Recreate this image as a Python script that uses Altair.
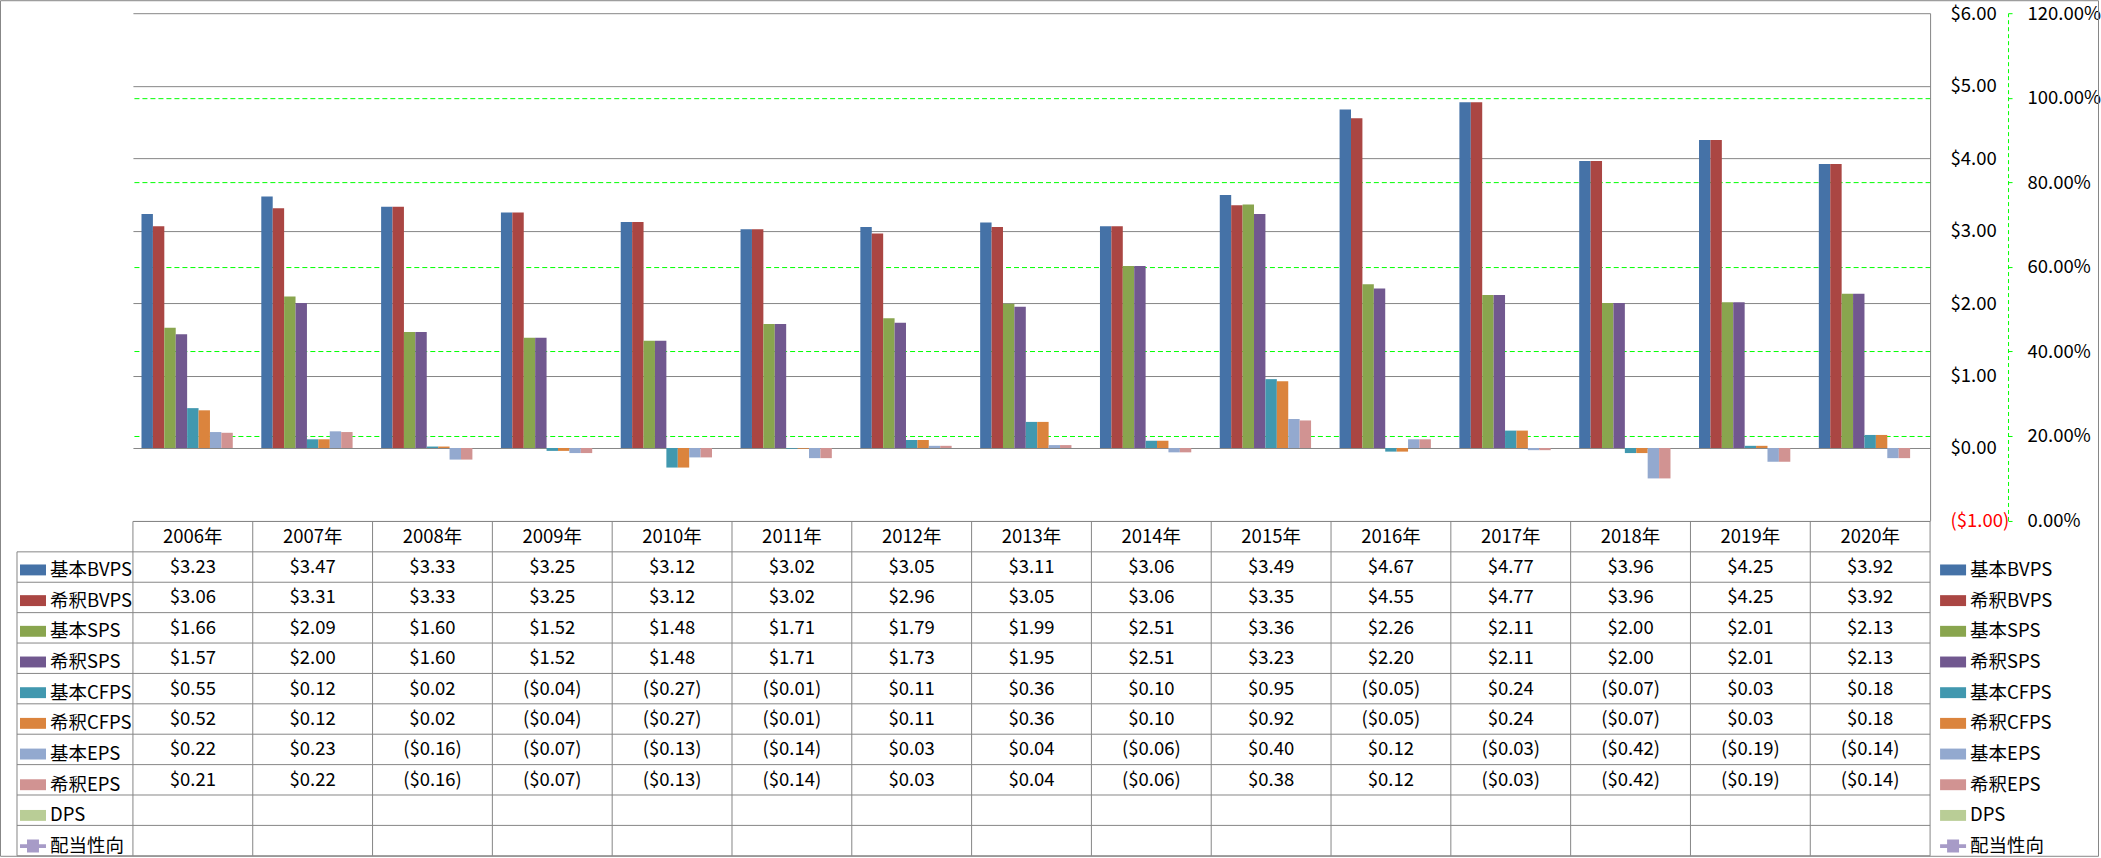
import altair as alt
import pandas as pd

# ---------------- data ----------------
years = ["2006年", "2007年", "2008年", "2009年", "2010年", "2011年", "2012年", "2013年",
         "2014年", "2015年", "2016年", "2017年", "2018年", "2019年", "2020年"]

series = ["基本BVPS", "希釈BVPS", "基本SPS", "希釈SPS", "基本CFPS", "希釈CFPS",
          "基本EPS", "希釈EPS", "DPS", "配当性向"]

basic_bvps = [3.23, 3.47, 3.33, 3.25, 3.12, 3.02, 3.05, 3.11, 3.06, 3.49, 4.67, 4.77, 3.96, 4.25, 3.92]
dil_bvps = [3.06, 3.31, 3.33, 3.25, 3.12, 3.02, 2.96, 3.05, 3.06, 3.35, 4.55, 4.77, 3.96, 4.25, 3.92]
basic_sps = [1.66, 2.09, 1.60, 1.52, 1.48, 1.71, 1.79, 1.99, 2.51, 3.36, 2.26, 2.11, 2.00, 2.01, 2.13]
dil_sps = [1.57, 2.00, 1.60, 1.52, 1.48, 1.71, 1.73, 1.95, 2.51, 3.23, 2.20, 2.11, 2.00, 2.01, 2.13]
basic_cfps = [0.55, 0.12, 0.02, -0.04, -0.27, -0.01, 0.11, 0.36, 0.10, 0.95, -0.05, 0.24, -0.07, 0.03, 0.18]
dil_cfps = [0.52, 0.12, 0.02, -0.04, -0.27, -0.01, 0.11, 0.36, 0.10, 0.92, -0.05, 0.24, -0.07, 0.03, 0.18]
basic_eps = [0.22, 0.23, -0.16, -0.07, -0.13, -0.14, 0.03, 0.04, -0.06, 0.40, 0.12, -0.03, -0.42, -0.19, -0.14]
dil_eps = [0.21, 0.22, -0.16, -0.07, -0.13, -0.14, 0.03, 0.04, -0.06, 0.38, 0.12, -0.03, -0.42, -0.19, -0.14]
dps = [None] * 15
payout = [None] * 15

all_values = [basic_bvps, dil_bvps, basic_sps, dil_sps, basic_cfps, dil_cfps,
              basic_eps, dil_eps, dps, payout]

dollar_ticks = [-1, 0, 1, 2, 3, 4, 5, 6]
pct_ticks = [0, 0.2, 0.4, 0.6, 0.8, 1.0, 1.2]

# ---------------- styles ----------------
colors = ["#4572A7", "#AA4643", "#89A54E", "#71588F", "#4198AF", "#DB843D",
          "#93A9CF", "#D19392", "#B9CD96", "#A79BC7"]
RECT_PATH = "M-1,-0.42H1V0.42H-1Z"
LINE_MARK_PATH = "M-1,-0.15H-0.46V-0.5H0.46V-0.15H1V0.15H0.46V0.5H-0.46V0.15H-1Z"
shapes = [RECT_PATH] * 9 + [LINE_MARK_PATH]

FONT = "Noto Sans CJK JP"
FS = 18.5
GRAY = "#868686"
GREEN = "#00FF00"
W, H = 1798, 843          # plot area: bars + table
BAR_BOTTOM = 507.5        # pixel of -$1 / 0%
TABLE_TOP = 508.5
COL_W = W / len(years)
LEG = -116 / COL_W        # legend column left edge in table column units

bar_series = series[:9]

# ---------------- frames ----------------
long_rows = []
for s, vals in zip(series, all_values):
    for y, v in zip(years, vals):
        long_rows.append({"series": s, "year": y, "value": v})
long_df = pd.DataFrame(long_rows)
bars_df = long_df[long_df["series"].isin(bar_series)]
pct_df = long_df[long_df["series"] == "配当性向"]


def fmt(v):
    return f"(${abs(v):.2f})" if v < 0 else f"${v:.2f}"


cells = []
for c, y in enumerate(years):
    cells.append({"cx": c + 0.5, "cy": 0.5, "label": y})
for r, vals in enumerate(all_values):
    for c, v in enumerate(vals):
        if v is not None:
            cells.append({"cx": c + 0.5, "cy": r + 1.5, "label": fmt(v)})
cells_df = pd.DataFrame(cells)

n_cols = len(years)
n_rows = len(series) + 1
hlines = pd.DataFrame([{"x": (0 if k == 0 else LEG), "x2": n_cols, "y": k} for k in range(n_rows + 1)])
vlines = pd.DataFrame([{"x": k, "y": 0, "y2": n_rows} for k in range(n_cols + 1)]
                      + [{"x": LEG, "y": 1, "y2": n_rows}])
leg_df = pd.DataFrame({"series": series})

# ---------------- scales ----------------
x_tab = alt.Scale(domain=[0, n_cols], nice=False, zero=False)
y_tab = alt.Scale(domain=[0, n_rows], range=[TABLE_TOP, H], nice=False, zero=False)

# ---------------- layers ----------------
border = alt.Chart(pd.DataFrame({"a": [0]})).mark_rect(
    fillOpacity=0, stroke=GRAY, strokeWidth=1
).encode(
    x=alt.value(-132.5), x2=alt.value(W + 168.5),
    y=alt.value(-12.5), y2=alt.value(H + 0.5),
)

pct_layer = alt.Chart(pct_df).mark_line(color=colors[9]).encode(
    x=alt.X("year:N", scale=alt.Scale(domain=years), axis=None),
    y=alt.Y("value:Q",
            scale=alt.Scale(domain=[0, 1.2], range=[BAR_BOTTOM, 0], nice=False, zero=False),
            axis=alt.Axis(orient="right", offset=78, values=pct_ticks, format=".2%", title=None,
                          domainColor=GREEN, domainDash=[4, 3], domainWidth=1,
                          tickColor=GREEN, tickSize=4, tickWidth=1,
                          grid=True, gridColor=GREEN, gridDash=[5, 3], gridWidth=1,
                          gridOpacity=alt.condition("datum.value > 1.19 || datum.value < 0.01",
                                                    alt.value(0), alt.value(1)),
                          labelPadding=15, labelAlign="left", labelBaseline="middle",
                          labelFontSize=FS, labelFont=FONT, labelColor="black")),
)

bars = alt.Chart(bars_df).mark_bar().encode(
    x=alt.X("year:N",
            scale=alt.Scale(domain=years, paddingInner=1.5 / 10.5, paddingOuter=0.75 / 10.5),
            axis=None),
    xOffset=alt.XOffset("series:N", scale=alt.Scale(domain=bar_series, paddingInner=0, paddingOuter=0)),
    y=alt.Y("value:Q",
            scale=alt.Scale(domain=[-1, 6], range=[BAR_BOTTOM, 0], nice=False),
            axis=alt.Axis(orient="right", values=dollar_ticks, title=None,
                          labelExpr="datum.value < 0 ? '($' + format(-datum.value, '.2f') + ')' : '$' + format(datum.value, '.2f')",
                          labelColor=alt.condition("datum.value < 0", alt.value("#FF0000"), alt.value("black")),
                          ticks=False, tickSize=0, labelPadding=20, labelAlign="left",
                          labelBaseline="middle",
                          domainColor=GRAY, domainWidth=1,
                          grid=True, gridColor=GRAY, gridWidth=1,
                          labelFontSize=FS, labelFont=FONT)),
    y2=alt.datum(0),
    color=alt.Color("series:N", scale=alt.Scale(domain=series, range=colors), legend=None),
)

h_rules = alt.Chart(hlines).mark_rule(color=GRAY, strokeWidth=1).encode(
    x=alt.X("x:Q", scale=x_tab, axis=None),
    x2="x2:Q",
    y=alt.Y("y:Q", scale=y_tab, axis=None),
)
v_rules = alt.Chart(vlines).mark_rule(color=GRAY, strokeWidth=1).encode(
    x=alt.X("x:Q", scale=x_tab, axis=None),
    y=alt.Y("y:Q", scale=y_tab, axis=None),
    y2="y2:Q",
)
table_text = alt.Chart(cells_df).mark_text(
    font=FONT, fontSize=FS, align="center", baseline="middle", color="black"
).encode(
    x=alt.X("cx:Q", scale=x_tab, axis=None),
    y=alt.Y("cy:Q", scale=y_tab, axis=None),
    text="label:N",
)


def legend_layer(lx, ly):
    lg = alt.Legend(orient="none", legendX=lx, legendY=ly, title=None, padding=0,
                    symbolOpacity=1, symbolStrokeWidth=0, symbolSize=676,
                    labelFont=FONT, labelFontSize=FS, labelColor="black",
                    labelOffset=4, rowPadding=7.7, labelLimit=300)
    return alt.Chart(leg_df).mark_point(filled=True, size=676, opacity=0).encode(
        color=alt.Color("series:N", scale=alt.Scale(domain=series, range=colors), legend=lg),
        shape=alt.Shape("series:N", scale=alt.Scale(domain=series, range=shapes), legend=lg),
    )


LEG_Y = 544
left_legend = legend_layer(-113, LEG_Y)
right_legend = legend_layer(1808, LEG_Y)

chart = alt.layer(
    border, pct_layer, bars, h_rules, v_rules, table_text, left_legend, right_legend
).resolve_scale(
    x="independent", y="independent", color="independent", shape="independent"
).properties(
    width=W, height=H, padding=0
).configure_view(stroke=None)

chart.save("out.html", embed_options={"renderer": "svg", "actions": False})
